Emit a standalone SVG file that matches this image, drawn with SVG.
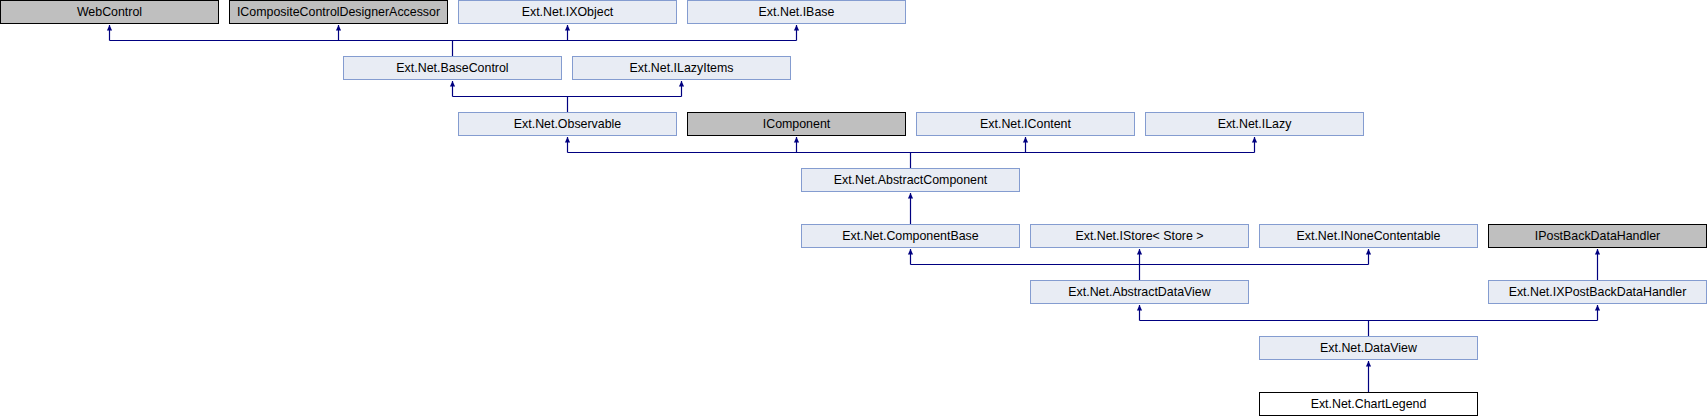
<svg xmlns="http://www.w3.org/2000/svg" width="1707" height="416" viewBox="0 0 1707 416">
<style>
  .n rect { fill: #e8ecf4; stroke: #849cd0; stroke-width: 1; }
  .g rect { fill: #bfbfbf; stroke: #000000; stroke-width: 1; }
  .w rect { fill: #ffffff; stroke: #000000; stroke-width: 1; }
  text { font-family: "Liberation Sans", Arial, sans-serif; font-size: 12.4px; fill: #000000; text-anchor: middle; }
  #edges path { fill: none; stroke: #000080; stroke-width: 1.2; }
</style>
<defs>
  <marker id="ah" markerUnits="userSpaceOnUse" markerWidth="8" markerHeight="8" refX="0" refY="0" viewBox="-6 -4 7 8" orient="auto">
    <path d="M0,0 L-5.5,-2.6 L-5.5,2.6 Z" fill="#000080"/>
  </marker>
</defs>
<rect width="1707" height="416" fill="#ffffff"/>

<g id="edges">
  <!-- BaseControl -> WebControl, ICCDA, IXObject, IBase -->
  <path d="M452.5,56.5 V40.5"/>
  <path d="M109.5,40.5 H796.5"/>
  <path d="M109.5,40.5 V25" marker-end="url(#ah)"/>
  <path d="M338.5,40.5 V25" marker-end="url(#ah)"/>
  <path d="M567.5,40.5 V25" marker-end="url(#ah)"/>
  <path d="M796.5,40.5 V25" marker-end="url(#ah)"/>
  <!-- Observable -> BaseControl, ILazyItems -->
  <path d="M567.5,112.5 V96.5"/>
  <path d="M452.5,96.5 H681.5"/>
  <path d="M452.5,96.5 V81" marker-end="url(#ah)"/>
  <path d="M681.5,96.5 V81" marker-end="url(#ah)"/>
  <!-- AbstractComponent -> Observable, IComponent, IContent, ILazy -->
  <path d="M910.5,168.5 V152.5"/>
  <path d="M567.5,152.5 H1254.5"/>
  <path d="M567.5,152.5 V137" marker-end="url(#ah)"/>
  <path d="M796.5,152.5 V137" marker-end="url(#ah)"/>
  <path d="M1025.5,152.5 V137" marker-end="url(#ah)"/>
  <path d="M1254.5,152.5 V137" marker-end="url(#ah)"/>
  <!-- ComponentBase -> AbstractComponent -->
  <path d="M910.5,224.5 V193" marker-end="url(#ah)"/>
  <!-- AbstractDataView -> ComponentBase, IStore, INoneContentable -->
  <path d="M1139.5,280.5 V264.5"/>
  <path d="M910.5,264.5 H1368.5"/>
  <path d="M910.5,264.5 V249" marker-end="url(#ah)"/>
  <path d="M1139.5,264.5 V249" marker-end="url(#ah)"/>
  <path d="M1368.5,264.5 V249" marker-end="url(#ah)"/>
  <!-- IXPostBackDataHandler -> IPostBackDataHandler -->
  <path d="M1597.5,280.5 V249" marker-end="url(#ah)"/>
  <!-- DataView -> AbstractDataView, IXPostBackDataHandler -->
  <path d="M1368.5,336.5 V320.5"/>
  <path d="M1139.5,320.5 H1597.5"/>
  <path d="M1139.5,320.5 V305" marker-end="url(#ah)"/>
  <path d="M1597.5,320.5 V305" marker-end="url(#ah)"/>
  <!-- ChartLegend -> DataView -->
  <path d="M1368.5,392.5 V361" marker-end="url(#ah)"/>
</g>

<g id="WebControl" class="g"><rect x="0.5" y="0.5" width="218" height="23"/><text x="109.5" y="16">WebControl</text></g>
<g id="ICompositeControlDesignerAccessor" class="g"><rect x="229.5" y="0.5" width="218" height="23"/><text x="338.5" y="16">ICompositeControlDesignerAccessor</text></g>
<g id="IXObject" class="n"><rect x="458.5" y="0.5" width="218" height="23"/><text x="567.5" y="16">Ext.Net.IXObject</text></g>
<g id="IBase" class="n"><rect x="687.5" y="0.5" width="218" height="23"/><text x="796.5" y="16">Ext.Net.IBase</text></g>

<g id="BaseControl" class="n"><rect x="343.5" y="56.5" width="218" height="23"/><text x="452.5" y="72">Ext.Net.BaseControl</text></g>
<g id="ILazyItems" class="n"><rect x="572.5" y="56.5" width="218" height="23"/><text x="681.5" y="72">Ext.Net.ILazyItems</text></g>

<g id="Observable" class="n"><rect x="458.5" y="112.5" width="218" height="23"/><text x="567.5" y="128">Ext.Net.Observable</text></g>
<g id="IComponent" class="g"><rect x="687.5" y="112.5" width="218" height="23"/><text x="796.5" y="128">IComponent</text></g>
<g id="IContent" class="n"><rect x="916.5" y="112.5" width="218" height="23"/><text x="1025.5" y="128">Ext.Net.IContent</text></g>
<g id="ILazy" class="n"><rect x="1145.5" y="112.5" width="218" height="23"/><text x="1254.5" y="128">Ext.Net.ILazy</text></g>

<g id="AbstractComponent" class="n"><rect x="801.5" y="168.5" width="218" height="23"/><text x="910.5" y="184">Ext.Net.AbstractComponent</text></g>

<g id="ComponentBase" class="n"><rect x="801.5" y="224.5" width="218" height="23"/><text x="910.5" y="240">Ext.Net.ComponentBase</text></g>
<g id="IStore" class="n"><rect x="1030.5" y="224.5" width="218" height="23"/><text x="1139.5" y="240" xml:space="preserve">Ext.Net.IStore&lt; Store &gt;</text></g>
<g id="INoneContentable" class="n"><rect x="1259.5" y="224.5" width="218" height="23"/><text x="1368.5" y="240">Ext.Net.INoneContentable</text></g>
<g id="IPostBackDataHandler" class="g"><rect x="1488.5" y="224.5" width="218" height="23"/><text x="1597.5" y="240">IPostBackDataHandler</text></g>

<g id="AbstractDataView" class="n"><rect x="1030.5" y="280.5" width="218" height="23"/><text x="1139.5" y="296">Ext.Net.AbstractDataView</text></g>
<g id="IXPostBackDataHandler" class="n"><rect x="1488.5" y="280.5" width="218" height="23"/><text x="1597.5" y="296">Ext.Net.IXPostBackDataHandler</text></g>

<g id="DataView" class="n"><rect x="1259.5" y="336.5" width="218" height="23"/><text x="1368.5" y="352">Ext.Net.DataView</text></g>

<g id="ChartLegend" class="w"><rect x="1259.5" y="392.5" width="218" height="23"/><text x="1368.5" y="408">Ext.Net.ChartLegend</text></g>
</svg>
